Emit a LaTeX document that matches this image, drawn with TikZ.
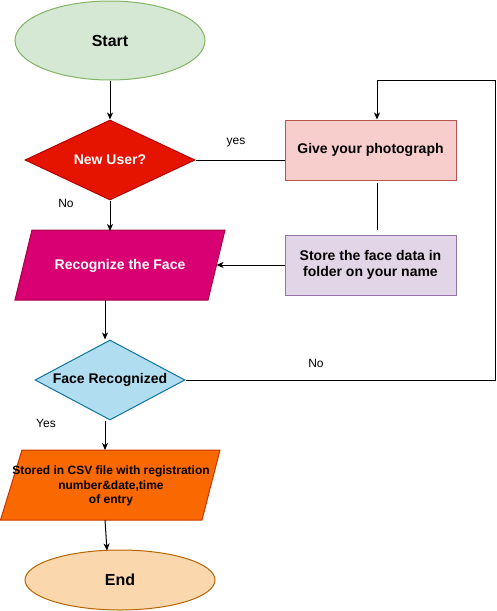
\documentclass[tikz,border=0pt]{standalone}
\usepackage{fontspec}
\setmainfont{Liberation Sans}
\usetikzlibrary{shapes.geometric,arrows.meta}
\definecolor{startF}{HTML}{D5E8D4}\definecolor{startD}{HTML}{82B366}
\definecolor{newF}{HTML}{E51400}\definecolor{newD}{HTML}{B20000}
\definecolor{giveF}{HTML}{F8CECC}\definecolor{giveD}{HTML}{B85450}
\definecolor{storeF}{HTML}{E1D5E7}\definecolor{storeD}{HTML}{9673A6}
\definecolor{recF}{HTML}{D80073}\definecolor{recD}{HTML}{A50040}
\definecolor{faceF}{HTML}{B1DDF0}\definecolor{faceD}{HTML}{10739E}
\definecolor{csvF}{HTML}{FA6800}\definecolor{csvD}{HTML}{C73500}
\definecolor{endF}{HTML}{FAD7AC}\definecolor{endD}{HTML}{B46504}
\begin{document}
\begin{tikzpicture}[x=1pt,y=-1pt,
  line width=1pt,
  every node/.style={inner sep=0pt,font=\bfseries\fontsize{14}{16}\selectfont},
  term/.style={ellipse,draw,minimum width=190pt,font=\bfseries\fontsize{16}{19}\selectfont},
  decision/.style={diamond,draw},
  procbox/.style={rectangle,draw,minimum width=171pt,minimum height=60pt,align=center},
  lbl/.style={font=\fontsize{12}{14}\selectfont},
  arr/.style={-{Stealth[length=7pt,width=6pt,inset=2pt]}}
]
\useasboundingbox (0,0) rectangle (497,611);

% shapes
\node[term,fill=startF,draw=startD,minimum height=79pt] (start) at (110,40.5) {Start};
\node[decision,fill=newF,draw=newD,aspect=2.125,minimum width=170pt,minimum height=80pt,text=white] (newuser) at (110,160) {New User?};
\node[procbox,fill=giveF,draw=giveD] (give) at (370.5,150) {Give your photograph};
\node[procbox,fill=storeF,draw=storeD] (store) at (370.5,265) {Store the face data in\\folder on your name};

\path[fill=recF,draw=recD] (32,230) -- (225,230) -- (208,300) -- (15,300) -- cycle;
\node[text=white] (recog) at (120,266) {Recognize the Face};

\node[decision,fill=faceF,draw=faceD,aspect=1.875,minimum width=150pt,minimum height=80pt] (face) at (110,380) {Face Recognized};

\path[fill=csvF,draw=csvD] (22,450) -- (220,450) -- (202,520) -- (0.5,520) -- cycle;
\node[align=center,font=\bfseries\fontsize{12}{14.5}\selectfont] (csv) at (111,486) {Stored in CSV file with registration\\number\&date,time\\of entry};

\node[term,fill=endF,draw=endD,minimum height=60pt] (end) at (120,580) {End};

% helper coordinates
\coordinate (gx) at (377,0);
\coordinate (recR) at (216.5,265);
\coordinate (recB) at (105,300);
\coordinate (csvT) at (105,450);
\coordinate (csvB) at (105,520);
\coordinate (endT) at (107,550.5);
\coordinate (loopR) at (495,80);

% connectors
\draw[arr] (start.south) -- (newuser.north);
\draw (newuser.east) -- (newuser.east -| give.west);
\draw[arr] (newuser.south) -- (newuser.south |- 0,231);
\draw (gx |- 0,183) -- (gx |- 0,230);
\draw[arr] (store.west) -- (recR);
\draw[arr] (recB) -- (recB |- face.north);
\draw (face.east) -| (loopR);
\draw[arr] (loopR) -| (gx |- give.north);
\draw[arr] (recB |- face.south) -- (csvT);
\draw[arr] (csvB) -- (endT);

% labels
\node[lbl] (lyes) at (236,143) {yes};
\node[lbl] (lno1) at (66,203) {No};
\node[lbl] (lno2) at (316,363) {No};
\node[lbl] (lyes2) at (46,423) {Yes};
\end{tikzpicture}
\end{document}
